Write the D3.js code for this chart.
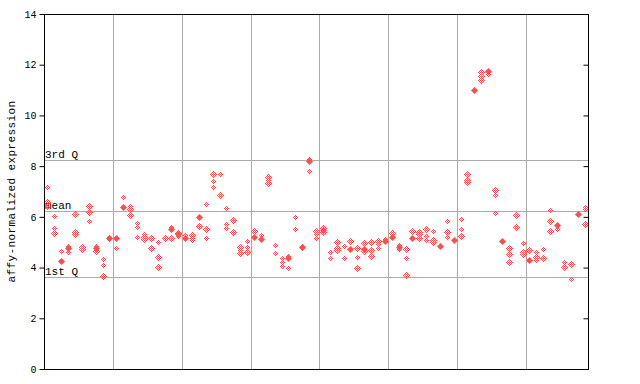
<!DOCTYPE html>
<html>
<head>
<meta charset="utf-8">
<script src="https://cdn.jsdelivr.net/npm/d3@7"></script>
<style>
  body { margin: 0; background: #fff; }
  text { font-family: "Liberation Mono", "DejaVu Sans Mono", monospace; }
</style>
</head>
<body>
<div id="chart"></div>
<script>
// replicate values per sample (open diamonds)
var openVals = [
  [7.17, 6.57, 6.39], [6.02, 5.56, 5.36], [4.64], [4.85, 4.60], [6.10, 5.42, 5.31],
  [4.82, 4.72], [6.43, 6.19, 5.84], [4.85, 4.66], [4.34, 4.09, 3.66], [5.20, 5.12],
  [4.76], [6.77], [6.43, 6.30, 6.07], [5.75, 5.59, 5.22], [5.31, 5.22, 5.13],
  [5.15, 4.76], [5.01, 4.40, 4.01], [5.18, 5.11], [5.59, 5.15], [5.38, 5.25],
  [5.27], [5.28, 5.18, 5.09], [5.63], [6.49, 5.51, 5.15], [7.68, 7.40, 7.18],
  [7.70, 6.86], [6.34, 5.70, 5.58], [5.86, 5.39], [4.82, 4.69, 4.56], [5.05, 4.80, 4.63],
  [5.44], [5.27], [7.58, 7.45, 7.32], [4.88, 4.56], [4.36, 4.23, 4.07],
  [4.46, 3.97], [5.98, 5.51], [4.86, 4.76], [8.28, 7.79], [5.45, 5.31, 5.15],
  [5.55, 5.40], [4.60, 4.36], [5.01, 4.76, 4.69], [4.84, 4.38], [5.05],
  [4.77, 4.42, 3.98], [4.97, 4.67], [5.00, 4.68, 4.44], [5.05, 4.92, 4.76], [5.14],
  [5.35], [4.88, 4.73], [4.73, 4.36, 3.71], [5.44], [5.40, 5.31, 5.17],
  [5.52, 5.24, 5.07], [5.44, 5.07, 5.01], [], [5.84, 5.39, 5.19], [],
  [5.92, 5.51, 5.23], [7.69, 7.44, 7.36], [], [11.73, 11.57, 11.40], [11.62],
  [7.06, 6.86, 6.14], [], [4.77, 4.54, 4.21], [6.12, 6.07, 5.59], [4.95, 4.60, 4.52],
  [4.68], [4.60, 4.43, 4.28], [4.73, 4.38], [6.26, 5.84, 5.43], [5.52],
  [4.21, 4.04], [4.13, 3.54], [], [6.40, 6.31, 5.71]
];

// filled diamonds (null = none)
var solidVals = [
  null, null, 4.27, 4.76, null, null, null, 4.76, null, 5.17,
  5.17, 6.40, null, null, null, null, null, null, 5.51, 5.31,
  5.17, null, 5.99, null, null, null, null, null, null, null,
  5.22, 5.11, null, null, null, 4.38, null, 4.81, 8.20, null,
  5.48, null, null, null, 4.72, null, 4.72, null, null, 5.04,
  5.22, 4.81, null, 5.18, null, null, null, 4.86, null, 5.10,
  null, null, 11.00, null, 11.75, null, 5.06, null, null, null,
  4.31, null, null, null, 5.67, null, null, 6.10, null
];

var refLines = [
  { label: "3rd Q", value: 8.24 },
  { label: "mean", value: 6.23 },
  { label: "1st Q", value: 3.63 }
];
var yTicks = [0, 2, 4, 6, 8, 10, 12, 14];
var groupEvery = 10;

var svgWidth = 640, svgHeight = 384;
var margin = { top: 14, right: 52, bottom: 15, left: 44 };
var chartWidth = svgWidth - margin.left - margin.right;
var chartHeight = svgHeight - margin.top - margin.bottom;
var red = "#ff4d4d";

var svg = d3.select("#chart").append("svg")
  .attr("width", svgWidth)
  .attr("height", svgHeight);

// checker pattern for the open diamonds
var pat = svg.append("defs").append("pattern")
  .attr("id", "checker")
  .attr("patternUnits", "userSpaceOnUse")
  .attr("width", 2).attr("height", 2);
pat.append("rect").attr("x", 0).attr("y", 0).attr("width", 1).attr("height", 1).attr("fill", red);
pat.append("rect").attr("x", 1).attr("y", 1).attr("width", 1).attr("height", 1).attr("fill", red);

var xScale = d3.scaleBand()
  .domain(d3.range(openVals.length))
  .range([0, chartWidth]);

var yScale = d3.scaleLinear()
  .domain([0, 14])
  .range([chartHeight, 0]);

var chartGroup = svg.append("g")
  .attr("transform", `translate(${margin.left}, ${margin.top})`);

// vertical group separators
var seps = d3.range(groupEvery, openVals.length, groupEvery);
chartGroup.selectAll("line.sep")
  .data(seps)
  .enter().append("line")
  .attr("x1", d => Math.round(xScale(d)) + 0.5)
  .attr("x2", d => Math.round(xScale(d)) + 0.5)
  .attr("y1", 0).attr("y2", chartHeight)
  .attr("stroke", "#aaaaaa");

// quartile / mean lines
chartGroup.selectAll("line.ref")
  .data(refLines)
  .enter().append("line")
  .attr("x1", 0).attr("x2", chartWidth)
  .attr("y1", d => Math.round(yScale(d.value)) + 0.5)
  .attr("y2", d => Math.round(yScale(d.value)) + 0.5)
  .attr("stroke", "#aaaaaa");

chartGroup.selectAll("text.ref")
  .data(refLines)
  .enter().append("text")
  .attr("x", 1)
  .attr("y", d => yScale(d.value) - 2)
  .attr("font-size", 11)
  .text(d => d.label);

function diamond(cx, cy, r) {
  return `M${cx},${cy - r}L${cx + r},${cy}L${cx},${cy + r}L${cx - r},${cy}Z`;
}

// open points
var openPts = [];
openVals.forEach((vals, i) => vals.forEach(v => openPts.push({ i: i, v: v })));

chartGroup.selectAll("path.open")
  .data(openPts)
  .enter().append("path")
  .attr("d", d => diamond(Math.round(xScale(d.i) + xScale.bandwidth() / 2) + 0.5,
                          Math.round(yScale(d.v)) + 0.5, 3.5))
  .attr("fill", "url(#checker)")
  .attr("shape-rendering", "crispEdges");

var solidPts = [];
solidVals.forEach((v, i) => { if (v !== null) solidPts.push({ i: i, v: v }); });

chartGroup.selectAll("path.solid")
  .data(solidPts)
  .enter().append("path")
  .attr("d", d => diamond(Math.round(xScale(d.i) + xScale.bandwidth() / 2) + 0.5,
                          Math.round(yScale(d.v)) + 0.5, 3.5))
  .attr("fill", red);

// frame
chartGroup.append("rect")
  .attr("x", 0.5).attr("y", 0.5)
  .attr("width", chartWidth).attr("height", chartHeight)
  .attr("fill", "none")
  .attr("stroke", "black");

// left axis
var leftAxis = d3.axisLeft(yScale).tickValues(yTicks).tickSize(5).tickPadding(3);
var gl = chartGroup.append("g").attr("transform", "translate(0.5,0)").call(leftAxis);
gl.select(".domain").remove();
gl.selectAll("text").attr("font-size", 10).attr("font-family", "Liberation Mono, monospace");

// right axis ticks pointing inward
var rightAxis = d3.axisLeft(yScale).tickValues(yTicks).tickSize(5).tickFormat("");
var gr = chartGroup.append("g").attr("transform", `translate(${chartWidth + 0.5},0)`).call(rightAxis);
gr.select(".domain").remove();

// y title
svg.append("text")
  .attr("transform", `translate(12, ${margin.top + chartHeight / 2}) rotate(-90)`)
  .attr("text-anchor", "middle")
  .attr("dominant-baseline", "central")
  .attr("font-size", 11)
  .attr("letter-spacing", 0.4)
  .text("affy-normalized expression");
</script>
</body>
</html>
